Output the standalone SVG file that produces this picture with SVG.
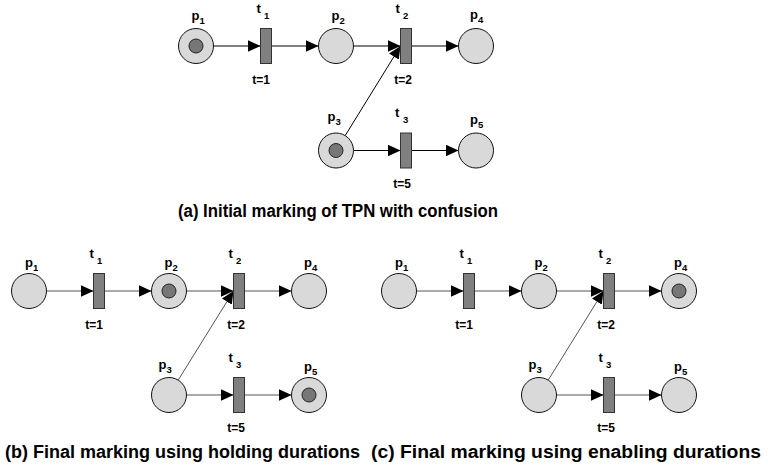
<svg xmlns="http://www.w3.org/2000/svg" width="768" height="467" viewBox="0 0 768 467">
<style>
.pl{fill:#d9d9d9;stroke:#111;stroke-width:1}
.tk{fill:#777;stroke:#222;stroke-width:1}
.tr{fill:#808080;stroke:#333;stroke-width:1}
.lbl{font-family:"Liberation Sans",Arial,sans-serif;font-weight:bold;font-size:13px;fill:#000}
.sub{font-size:9.5px}
.tl{font-family:"Liberation Sans",Arial,sans-serif;font-weight:bold;font-size:12px;fill:#000;text-anchor:middle}
.cap{font-family:"Liberation Sans",Arial,sans-serif;font-weight:bold;font-size:18px;fill:#000}
.ea{stroke:#000;stroke-width:1;fill:none;marker-end:url(#ah)}
.eb{stroke:#555;stroke-width:1;fill:none;marker-end:url(#ah)}
</style>
<defs>
<marker id="ah" markerUnits="userSpaceOnUse" markerWidth="13" markerHeight="12" refX="12.5" refY="5.75" orient="auto">
<path d="M0,0 L12.5,5.75 L0,11.5 z" fill="#000"/>
</marker>
</defs>

<!-- (a) -->
<g id="a-edges">
<line class="ea" x1="213.5" y1="46" x2="260.5" y2="46"/>
<line class="ea" x1="271.5" y1="46" x2="318.5" y2="46"/>
<line class="ea" x1="353.5" y1="46" x2="400.5" y2="46"/>
<line class="ea" x1="411.5" y1="46" x2="458.5" y2="46"/>
<line class="ea" x1="345.2" y1="135.6" x2="400.5" y2="46"/>
<line class="ea" x1="353.5" y1="150.5" x2="400.5" y2="150.5"/>
<line class="ea" x1="411.5" y1="150.5" x2="458.5" y2="150.5"/>
</g>
<g id="a-p1"><circle class="pl" cx="196" cy="46" r="17.5"/><circle class="tk" cx="196" cy="46" r="7"/><text class="lbl" x="191.5" y="19.5">p<tspan class="sub" dy="4">1</tspan></text></g>
<g id="a-t1"><rect class="tr" x="260.5" y="28.5" width="11" height="35"/><text class="lbl" x="256.5" y="12.5">t<tspan class="sub" x="264" dy="6">1</tspan></text><text class="tl" x="261" y="83.5">t=1</text></g>
<g id="a-p2"><circle class="pl" cx="336" cy="46" r="17.5"/><text class="lbl" x="331.5" y="19.5">p<tspan class="sub" dy="4">2</tspan></text></g>
<g id="a-t2"><rect class="tr" x="400.5" y="28.5" width="11" height="35"/><text class="lbl" x="395.5" y="12.5">t<tspan class="sub" x="403" dy="6">2</tspan></text><text class="tl" x="403" y="83.5">t=2</text></g>
<g id="a-p4"><circle class="pl" cx="476" cy="46" r="17.5"/><text class="lbl" x="470" y="19">p<tspan class="sub" dy="4">4</tspan></text></g>
<g id="a-p3"><circle class="pl" cx="336" cy="150.5" r="17.5"/><circle class="tk" cx="336" cy="150.5" r="7"/><text class="lbl" x="327.5" y="120.5">p<tspan class="sub" dy="4">3</tspan></text></g>
<g id="a-t3"><rect class="tr" x="400.5" y="133" width="11" height="35"/><text class="lbl" x="395" y="116.5">t<tspan class="sub" x="403" dy="6">3</tspan></text><text class="tl" x="402" y="187.5">t=5</text></g>
<g id="a-p5"><circle class="pl" cx="476" cy="150.5" r="17.5"/><text class="lbl" x="470" y="124">p<tspan class="sub" dy="4">5</tspan></text></g>
<text class="cap" x="178" y="217" textLength="320" lengthAdjust="spacingAndGlyphs">(a) Initial marking of TPN with confusion</text>

<!-- (b) -->
<g id="b-edges">
<line class="eb" x1="46.5" y1="291" x2="93.5" y2="291"/>
<line class="eb" x1="104.5" y1="291" x2="151.5" y2="291"/>
<line class="eb" x1="186.5" y1="291" x2="233.5" y2="291"/>
<line class="eb" x1="244.5" y1="291" x2="291.5" y2="291"/>
<line class="eb" x1="178.2" y1="380.1" x2="233.5" y2="291"/>
<line class="eb" x1="186.5" y1="395" x2="233.5" y2="395"/>
<line class="eb" x1="244.5" y1="395" x2="291.5" y2="395"/>
</g>
<g id="b-p1"><circle class="pl" cx="29" cy="291" r="17.5"/><text class="lbl" x="25" y="266.5">p<tspan class="sub" dy="4">1</tspan></text></g>
<g id="b-t1"><rect class="tr" x="93.5" y="273.5" width="11" height="35"/><text class="lbl" x="89.5" y="257.5">t<tspan class="sub" x="97" dy="6">1</tspan></text><text class="tl" x="94" y="328.5">t=1</text></g>
<g id="b-p2"><circle class="pl" cx="169" cy="291" r="17.5"/><circle class="tk" cx="169" cy="291" r="7"/><text class="lbl" x="164.5" y="266.5">p<tspan class="sub" dy="4">2</tspan></text></g>
<g id="b-t2"><rect class="tr" x="233.5" y="273.5" width="11" height="35"/><text class="lbl" x="228.5" y="257.5">t<tspan class="sub" x="236" dy="6">2</tspan></text><text class="tl" x="236" y="328.5">t=2</text></g>
<g id="b-p4"><circle class="pl" cx="309" cy="291" r="17.5"/><text class="lbl" x="304" y="266.5">p<tspan class="sub" dy="4">4</tspan></text></g>
<g id="b-p3"><circle class="pl" cx="169" cy="395" r="17.5"/><text class="lbl" x="158.5" y="368.5">p<tspan class="sub" dy="4">3</tspan></text></g>
<g id="b-t3"><rect class="tr" x="233.5" y="377.5" width="11" height="35"/><text class="lbl" x="228.5" y="361.5">t<tspan class="sub" x="236" dy="6">3</tspan></text><text class="tl" x="236" y="432">t=5</text></g>
<g id="b-p5"><circle class="pl" cx="309" cy="395" r="17.5"/><circle class="tk" cx="309" cy="395" r="7"/><text class="lbl" x="304" y="370.5">p<tspan class="sub" dy="4">5</tspan></text></g>
<text class="cap" x="5" y="458" textLength="355" lengthAdjust="spacingAndGlyphs">(b) Final marking using holding durations</text>

<!-- (c) -->
<g id="c-edges">
<line class="eb" x1="416.5" y1="291" x2="463.5" y2="291"/>
<line class="eb" x1="474.5" y1="291" x2="521.5" y2="291"/>
<line class="eb" x1="556.5" y1="291" x2="603.5" y2="291"/>
<line class="eb" x1="614.5" y1="291" x2="661.5" y2="291"/>
<line class="eb" x1="548.2" y1="380.1" x2="603.5" y2="291"/>
<line class="eb" x1="556.5" y1="395" x2="603.5" y2="395"/>
<line class="eb" x1="614.5" y1="395" x2="661.5" y2="395"/>
</g>
<g id="c-p1"><circle class="pl" cx="399" cy="291" r="17.5"/><text class="lbl" x="395" y="266.5">p<tspan class="sub" dy="4">1</tspan></text></g>
<g id="c-t1"><rect class="tr" x="463.5" y="273.5" width="11" height="35"/><text class="lbl" x="459.5" y="257.5">t<tspan class="sub" x="467" dy="6">1</tspan></text><text class="tl" x="464" y="328.5">t=1</text></g>
<g id="c-p2"><circle class="pl" cx="539" cy="291" r="17.5"/><text class="lbl" x="534.5" y="266.5">p<tspan class="sub" dy="4">2</tspan></text></g>
<g id="c-t2"><rect class="tr" x="603.5" y="273.5" width="11" height="35"/><text class="lbl" x="598.5" y="257.5">t<tspan class="sub" x="606" dy="6">2</tspan></text><text class="tl" x="606" y="328.5">t=2</text></g>
<g id="c-p4"><circle class="pl" cx="679" cy="291" r="17.5"/><circle class="tk" cx="679" cy="291" r="7"/><text class="lbl" x="674" y="266.5">p<tspan class="sub" dy="4">4</tspan></text></g>
<g id="c-p3"><circle class="pl" cx="539" cy="395" r="17.5"/><text class="lbl" x="528.5" y="368.5">p<tspan class="sub" dy="4">3</tspan></text></g>
<g id="c-t3"><rect class="tr" x="603.5" y="377.5" width="11" height="35"/><text class="lbl" x="598.5" y="361.5">t<tspan class="sub" x="606" dy="6">3</tspan></text><text class="tl" x="606" y="432">t=5</text></g>
<g id="c-p5"><circle class="pl" cx="679" cy="395" r="17.5"/><text class="lbl" x="674" y="370.5">p<tspan class="sub" dy="4">5</tspan></text></g>
<text class="cap" x="371" y="458" textLength="390" lengthAdjust="spacingAndGlyphs">(c) Final marking using enabling durations</text>
</svg>
